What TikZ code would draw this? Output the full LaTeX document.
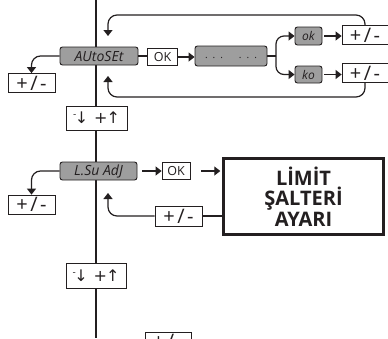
\documentclass[tikz,border=0pt]{standalone}
\usepackage{fontspec}
\setmainfont{Open Sans}
\newfontfamily\symfont{DejaVu Sans}
\usetikzlibrary{arrows.meta}
\definecolor{lcd}{RGB}{158,158,158}
\definecolor{ink}{RGB}{35,31,32}
\tikzset{
  lcdbox/.style={draw=ink, fill=lcd, rounded corners=2.5pt, line width=0.9pt, inner sep=0pt,
    text=ink, font=\itshape\fontsize{14}{14}\selectfont},
  keybox/.style={draw=ink, fill=white, line width=0.8pt, inner sep=0pt, text=ink},
  pmbox/.style={keybox, minimum width=47pt, minimum height=19pt, font=\fontsize{20}{20}\selectfont},
  udbox/.style={keybox, minimum width=61pt, minimum height=24pt, font=\symfont\fontsize{16}{16}\selectfont},
  okbox/.style={keybox, minimum width=30pt, minimum height=17pt, font=\fontsize{12.5}{12.5}\selectfont},
  conn/.style={draw=ink, line width=1.2pt},
  arr/.style={conn, -{Triangle[width=9pt,length=6pt]}},
  mainline/.style={draw=ink, line width=2pt},
}
\newcommand{\pmtext}{\raisebox{-1pt}{+\kern2.5pt/\kern2.5pt-}}
\newcommand{\udtext}{\raisebox{6pt}{\fontsize{9}{9}\selectfont -}\kern-1.5pt↓\kern6pt+\kern-1pt↑}
\begin{document}
\begin{tikzpicture}[x=1pt,y=-1pt]
\useasboundingbox (0,0) rectangle (388,338);
\clip (0,0) rectangle (388,338);
\draw[mainline] (96,0) -- (96,338);

% AUTOSET row
\node[lcdbox, minimum width=78pt, minimum height=18pt] (autoset) at (99,56) {AUtoSEt};
\node[okbox] (ok1) at (162.5,57) {OK};
\node[lcdbox, minimum width=72pt, minimum height=20pt] (dots) at (231,56)
  {\upshape\fontsize{10}{10}\selectfont\raisebox{-5pt}{.\kern5pt.\kern5pt.\kern16pt.\kern5pt.\kern5pt.}};
\node[lcdbox, minimum width=27pt, minimum height=18pt, font=\itshape\fontsize{12}{12}\selectfont] (okk) at (308.5,36) {ok};
\node[lcdbox, minimum width=27pt, minimum height=17pt, font=\itshape\fontsize{12}{12}\selectfont] (ko) at (308.5,74.5) {ko};
\node[pmbox, minimum width=46pt] (pm1) at (365,35) {\pmtext};
\node[pmbox, minimum width=46pt] (pm2) at (365,73) {\pmtext};
\node[pmbox] (pmA) at (31.5,83) {\pmtext};

\draw[arr, rounded corners=9pt] (autoset.west) -| (pmA.north);
\draw[conn] (autoset.east) -- (autoset.east -| ok1.west);
\draw[arr] (ok1.east) -- (ok1.east -| dots.west);
\coordinate (fork) at (276,56);
\draw[conn] (dots.east) -- (fork);
\draw[arr, rounded corners=8pt] (fork) |- (okk.west);
\draw[arr, rounded corners=8pt] (fork) |- (ko.west);
\draw[arr, shorten <=2pt] (okk.east) -- (okk.east -| pm1.west);
\draw[arr, shorten <=2pt] (ko.east) -- (ko.east -| pm2.west);
\coordinate (topend) at (108,36);
\coordinate (botend) at (108,76);
\draw[arr, rounded corners=9pt] (pm1.north) -- (pm1.north |- 0,15) -- (topend |- 0,15) -- (topend);
\draw[arr, rounded corners=9pt] (pm2.south) -- (pm2.south |- 0,97) -- (botend |- 0,97) -- (botend);

% first up/down
\node[udbox] (ud1) at (96.5,118) {\udtext};

% LSU row
\node[lcdbox, minimum width=77pt, minimum height=18pt] (lsu) at (98.5,171) {L.Su AdJ};
\node[okbox, minimum width=28pt] (ok2) at (176,171) {OK};
\node[draw=ink, line width=2.4pt, fill=white, minimum width=160pt, minimum height=76pt, inner sep=0pt,
  align=center, text=ink, font=\bfseries\fontsize{20}{20.5}\selectfont] (limit) at (303.5,196.5) {LİMİT\\ŞALTERİ\\AYARI};
\node[pmbox] (pmB) at (31.5,204.5) {\pmtext};
\node[pmbox, minimum height=20pt] (pmC) at (178.5,216) {\pmtext};

\draw[arr, rounded corners=9pt] (lsu.west) -| (pmB.north);
\draw[arr, shorten <=5pt] (lsu.east) -- (lsu.east -| ok2.west);
\draw[arr, shorten <=11pt, shorten >=2pt] (ok2.east) -- (ok2.east -| limit.west);
\draw[conn] (limit.west |- pmC) -- (pmC.east);
\coordinate (lsuend) at (108,193);
\draw[arr, rounded corners=9pt] (pmC.west) -| (lsuend);

% second up/down
\node[udbox, minimum width=60pt, minimum height=25pt] (ud2) at (96,275.5) {\udtext};

% bottom clipped box
\node[pmbox, minimum width=46pt] (pmD) at (168,341.5) {\pmtext};
\end{tikzpicture}
\end{document}
